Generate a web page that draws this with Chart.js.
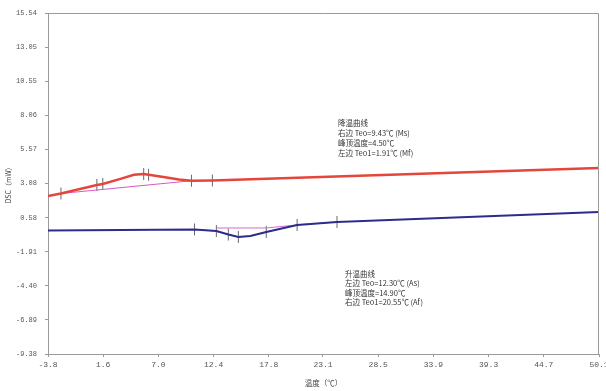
<!DOCTYPE html>
<html>
<head>
<meta charset="utf-8">
<script src="https://cdn.jsdelivr.net/npm/chart.js@4.4.1/dist/chart.umd.min.js"></script>
<style>
  html, body { margin: 0; padding: 0; background: #fff; }
  #wrap { width: 606px; height: 391px; }
</style>
</head>
<body>
<div id="wrap"><canvas id="dsc" width="606" height="391"></canvas></div>
<script>
// 降温曲线 (cooling)
var coolX = [-3.8, -2.53, 0.98, 1.56, 3.2, 4.6, 5.56, 6.04, 7.5, 9.0, 10.24, 12.28, 50.1];
var coolY = [2.17, 2.35, 2.97, 3.05, 3.40, 3.72, 3.77, 3.72, 3.55, 3.38, 3.28, 3.30, 4.21];
var coolBaseX = [-2.53, 10.24];
var coolBaseY = [2.35, 3.28];
var coolMarkX = [-2.53, 0.98, 1.56, 5.56, 6.04, 10.24, 12.28];
var coolMarkY = [2.35, 2.97, 3.05, 3.77, 3.72, 3.28, 3.30];

// 升温曲线 (heating)
var heatX = [-3.8, 10.53, 12.67, 13.84, 14.82, 16.0, 17.55, 20.57, 24.47, 50.1];
var heatY = [-0.35, -0.28, -0.39, -0.65, -0.83, -0.75, -0.46, 0.05, 0.27, 1.0];
var heatBaseX = [12.67, 17.55, 20.57];
var heatBaseY = [-0.17, -0.17, 0.05];
var heatMarkX = [10.53, 12.67, 13.84, 14.82, 17.55, 20.57, 24.47];
var heatMarkY = [-0.28, -0.39, -0.65, -0.83, -0.46, 0.05, 0.27];

// 刻度
var xTicks = [-3.8, 1.6, 7.0, 12.4, 17.8, 23.1, 28.5, 33.9, 39.3, 44.7, 50.1];
var xTickLabels = ['-3.8', '1.6', '7.0', '12.4', '17.8', '23.1', '28.5', '33.9', '39.3', '44.7', '50.1'];
var yTicks = [15.54, 13.05, 10.55, 8.06, 5.57, 3.08, 0.58, -1.91, -4.40, -6.89, -9.38];
var yTickLabels = ['15.54', '13.05', '10.55', '8.06', '5.57', '3.08', '0.58', '-1.91', '-4.40', '-6.89', '-9.38'];

var coolNote = ['降温曲线', '右边 Teo=9.43℃ (Ms)', '峰顶温度=4.50℃', '左边 Teo1=1.91℃ (Mf)'];
var heatNote = ['升温曲线', '左边 Teo=12.30℃ (As)', '峰顶温度=14.90℃', '右边 Teo1=20.55℃ (Af)'];

function pts(xs, ys) {
    return xs.map(function (x, i) { return { x: x, y: ys[i] }; });
}

// 外框和注释
var extras = {
    id: 'extras',
    afterDraw: function (chart) {
        var ctx = chart.ctx;
        var a = chart.chartArea;
        ctx.save();
        ctx.strokeStyle = '#9a9a9a';
        ctx.lineWidth = 1;
        ctx.beginPath();
        ctx.moveTo(a.left, a.top + 0.5);
        ctx.lineTo(a.right - 0.5, a.top + 0.5);
        ctx.lineTo(a.right - 0.5, a.bottom);
        ctx.stroke();

        ctx.fillStyle = '#333';
        ctx.font = '7.5px "Noto Sans CJK SC"';
        ctx.textBaseline = 'middle';
        coolNote.forEach(function (t, i) { ctx.fillText(t, 338, 123 + i * 10); });
        heatNote.forEach(function (t, i) { ctx.fillText(t, 345, 274 + i * 9.5); });
        ctx.restore();
    }
};

var tickFont = { family: '"Liberation Mono", monospace', size: 8 };

new Chart(document.getElementById('dsc').getContext('2d'), {
    type: 'scatter',
    data: {
        datasets: [
            { data: pts(coolX, coolY), showLine: true, borderColor: '#e5463c', borderWidth: 2.5, pointRadius: 0 },
            { data: pts(coolX.slice(0, 11), coolY.slice(0, 11)), showLine: true, borderColor: 'rgba(214,60,150,0.7)', borderWidth: 1.2, pointRadius: 0 },
            { data: pts(coolBaseX, coolBaseY), showLine: true, borderColor: '#d857c4', borderWidth: 1, pointRadius: 0 },
            { data: pts(coolMarkX, coolMarkY), showLine: false, pointStyle: 'line', rotation: 90, pointRadius: 6, borderColor: '#6a6a6a', borderWidth: 1 },
            { data: pts(heatX, heatY), showLine: true, borderColor: '#2c2c8e', borderWidth: 2, pointRadius: 0 },
            { data: pts(heatX.slice(1, 9), heatY.slice(1, 9)), showLine: true, borderColor: 'rgba(214,60,180,0.6)', borderWidth: 1, pointRadius: 0 },
            { data: pts(heatBaseX, heatBaseY), showLine: true, borderColor: '#d46ad0', borderWidth: 1, pointRadius: 0 },
            { data: pts(heatMarkX, heatMarkY), showLine: false, pointStyle: 'line', rotation: 90, pointRadius: 6, borderColor: '#6a6a6a', borderWidth: 1 }
        ]
    },
    options: {
        responsive: false,
        maintainAspectRatio: false,
        animation: false,
        layout: { padding: { top: 13, right: 6, left: 0, bottom: 0 } },
        plugins: { legend: { display: false }, tooltip: { enabled: false } },
        scales: {
            x: {
                type: 'linear',
                min: -3.8,
                max: 50.1,
                afterBuildTicks: function (s) { s.ticks = xTicks.map(function (v) { return { value: v }; }); },
                afterFit: function (s) { s.height = 37; s.paddingLeft = 0; s.paddingRight = 0; },
                ticks: {
                    autoSkip: false,
                    maxRotation: 0,
                    padding: 3,
                    color: '#555',
                    font: tickFont,
                    callback: function (v, i) { return xTickLabels[i]; }
                },
                grid: { drawOnChartArea: false, drawTicks: true, tickLength: 3, color: '#9a9a9a' },
                border: { display: true, color: '#9a9a9a' },
                title: { display: true, text: '温度（℃）', color: '#444', font: { family: '"Noto Sans CJK SC"', size: 7.5 }, padding: { top: 0, bottom: 3 } }
            },
            y: {
                type: 'linear',
                min: -9.38,
                max: 15.54,
                afterBuildTicks: function (s) { s.ticks = yTicks.map(function (v) { return { value: v }; }); },
                afterFit: function (s) { s.width = 48; s.paddingTop = 0; s.paddingBottom = 0; },
                ticks: {
                    autoSkip: false,
                    padding: 8,
                    color: '#555',
                    font: { family: '"Liberation Mono", monospace', size: 7 },
                    callback: function (v, i) { return yTickLabels[i]; }
                },
                grid: { drawOnChartArea: false, drawTicks: true, tickLength: 3, color: '#9a9a9a' },
                border: { display: true, color: '#9a9a9a' },
                title: { display: true, text: 'DSC（mW）', color: '#444', font: { family: '"Noto Sans CJK SC"', size: 7 }, padding: { top: 4, bottom: 0 } }
            }
        }
    },
    plugins: [extras]
});
</script>
</body>
</html>
